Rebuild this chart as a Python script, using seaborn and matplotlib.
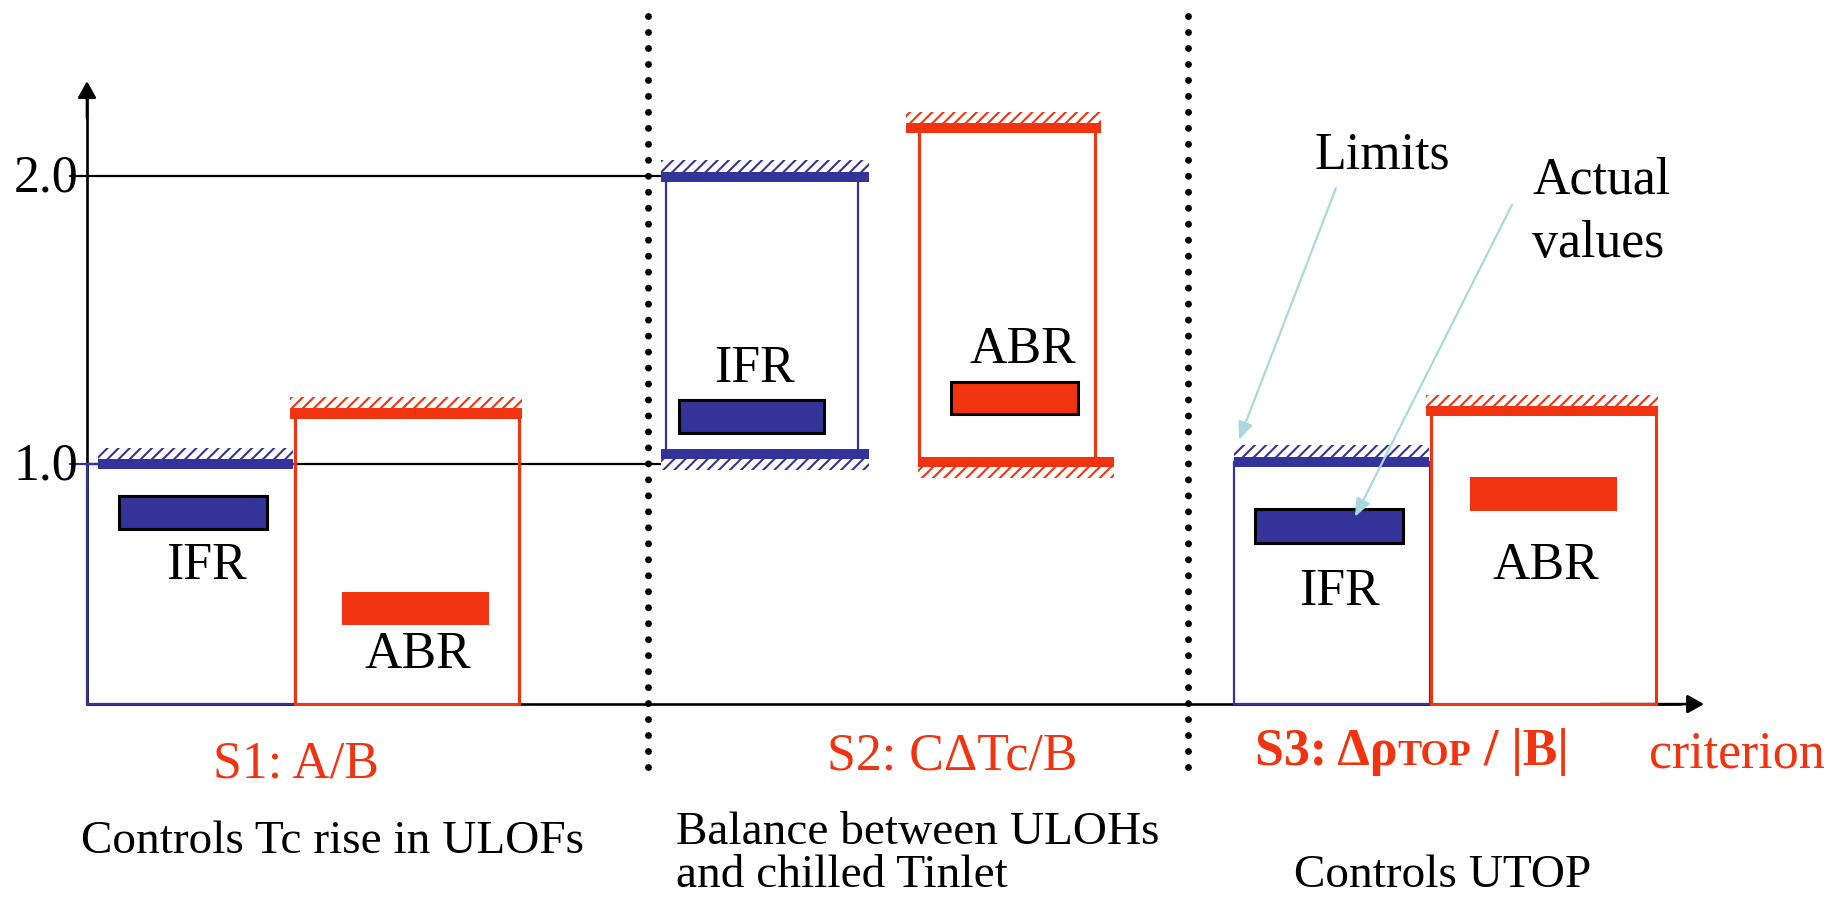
"""
plot.py — IFR vs ABR: limites e valores reais dos critérios S1, S2, S3.
"""

import numpy as np
import matplotlib
matplotlib.use("Agg")
import matplotlib.pyplot as plt
from matplotlib.patches import Rectangle
import seaborn as sns

# ── Dados (eixo vertical em unidades do critério) ─────────────────
cases = ["S1 IFR", "S1 ABR", "S2 IFR", "S2 ABR", "S3 IFR", "S3 ABR"]
reactor = ["IFR", "ABR", "IFR", "ABR", "IFR", "ABR"]
upper_limit = [1.000, 1.176, 1.998, 2.165, 1.009, 1.184]
lower_limit = [np.nan, np.nan, 1.037, 1.009, np.nan, np.nan]
actual_low = [0.775, 0.441, 1.109, 1.174, 0.728, 0.839]
actual_high = [0.890, 0.558, 1.222, 1.287, 0.844, 0.957]

criteria = ["S1: A/B", "S2: CΔTc/B", "S3: ΔρTOP / |B|"]
descriptions = ["Controls Tc rise in ULOFs",
                "Balance between ULOHs\nand chilled Tinlet",
                "Controls UTOP"]
y_ticks = [1.0, 2.0]
y_ticklabels = ["1.0", "2.0"]

# ── Layout (posições horizontais em px da figura) ─────────────────
BASE = 0.168                      # nível do eixo x
box_x0 = [87, 295, 666, 919, 1234, 1431]
box_x1 = [295, 519, 858, 1095, 1430, 1656]
up_x0 = [98, 290, 661, 906, 1234, 1426]
up_x1 = [293, 522, 869, 1101, 1429, 1658]
low_x0 = [0, 0, 661, 918, 0, 0]
low_x1 = [0, 0, 869, 1114, 0, 0]
act_x0 = [119, 342, 679, 951, 1255, 1470]
act_x1 = [267, 489, 824, 1078, 1403, 1617]
act_edge = [True, False, True, True, True, False]
label_x = [206, 418, 754, 1023, 1339, 1546]
label_y = [0.601, 0.2945, 1.2865, 1.351, 0.512, 0.601]
dividers = [648, 1188]

BLUE = "#333399"
RED = "#F2330F"
ARROW = "#A9D9DE"
BAR_H = 0.035
HATCH_H = 0.040
BIG = 37.4
MID = 34

sns.set_theme(style="white")
plt.rcParams["font.family"] = ["Liberation Serif", "DejaVu Serif"]
plt.rcParams["text.color"] = "black"
plt.rcParams["hatch.linewidth"] = 1.5

fig = plt.figure(figsize=(18.42, 8.99), dpi=100)
ax = fig.add_axes([0, 0, 1, 1])
ax.set_xlim(0, 1842)
ax.set_ylim(-0.508, 2.6105)
ax.axis("off")


def limit_bar(x0, x1, v, color, hatch_side):
    ax.add_patch(Rectangle((x0, v - BAR_H / 2), x1 - x0, BAR_H,
                           facecolor=color, edgecolor="none", zorder=5))
    hy = v + BAR_H / 2 if hatch_side > 0 else v - BAR_H / 2 - HATCH_H
    ax.add_patch(Rectangle((x0, hy), x1 - x0, HATCH_H, facecolor="white",
                           edgecolor=color, hatch="///", lw=0, zorder=4))


# ── Eixos desenhados à mão ───────────────────────────────────────
ax.plot([87, 87], [BASE, 2.28], color="black", lw=1.9, zorder=2)
ax.annotate("", xy=(87, 2.329), xytext=(87, 2.2),
            arrowprops=dict(arrowstyle="-|>,head_length=0.5,head_width=0.28",
                            mutation_scale=20, color="black", lw=1.9,
                            shrinkA=0, shrinkB=0), zorder=2)
ax.plot([87, 1680], [BASE, BASE], color="black", lw=1.9, zorder=2)
ax.annotate("", xy=(1704, BASE), xytext=(1600, BASE),
            arrowprops=dict(arrowstyle="-|>,head_length=0.5,head_width=0.28",
                            mutation_scale=20, color="black", lw=1.9,
                            shrinkA=0, shrinkB=0), zorder=2)

for v, lab, tc in zip(y_ticks, y_ticklabels, [BLUE, "black"]):
    ax.plot([70, 87], [v, v], color=tc, lw=1.6, zorder=2)
    ax.hlines(v, 87, 720, color="black", lw=1.6, zorder=1)
    ax.text(78, v - 0.053, lab, fontsize=BIG, ha="right", va="baseline")

for xd in dividers:
    ax.plot([xd, xd], [2.555, -0.053], color="black", lw=5,
            linestyle=(0, (0.001, 2.3)), dash_capstyle="round", zorder=2)

# ── Caixas, limites e valores reais ──────────────────────────────
for i, name in enumerate(cases):
    color = BLUE if reactor[i] == "IFR" else RED
    lw = 1.6 if color == BLUE else 2.2
    if np.isnan(lower_limit[i]):
        ax.add_patch(Rectangle((box_x0[i], BASE), box_x1[i] - box_x0[i],
                               upper_limit[i] - BASE, fill=False,
                               edgecolor=color, lw=lw, zorder=3))
    else:
        ax.vlines([box_x0[i], box_x1[i]], lower_limit[i], upper_limit[i],
                  color=color, lw=lw, zorder=3)
        limit_bar(low_x0[i], low_x1[i], lower_limit[i], color, -1)
    limit_bar(up_x0[i], up_x1[i], upper_limit[i], color, +1)

    ax.add_patch(Rectangle((act_x0[i], actual_low[i]), act_x1[i] - act_x0[i],
                           actual_high[i] - actual_low[i], facecolor=color,
                           edgecolor="black" if act_edge[i] else color,
                           lw=2.2 if act_edge[i] else 0, zorder=6))
    ax.text(label_x[i], label_y[i], reactor[i], fontsize=BIG,
            ha="center", va="baseline", zorder=7)

# ── Anotações ────────────────────────────────────────────────────
ax.text(1382, 2.027, "Limits", fontsize=BIG, ha="center", va="baseline")
ax.text(1602, 1.941, "Actual", fontsize=BIG, ha="center", va="baseline")
ax.text(1598, 1.720, "values", fontsize=BIG, ha="center", va="baseline")
for start, end in [((1336, 1.958), (1239, 1.0845)),
                   ((1512, 1.900), (1355, 0.818))]:
    ax.annotate("", xy=end, xytext=start,
                arrowprops=dict(arrowstyle="-|>,head_length=0.6,head_width=0.25",
                                mutation_scale=18, color=ARROW, lw=1.6,
                                shrinkA=0, shrinkB=0), zorder=8)

# ── Rótulos dos critérios ────────────────────────────────────────
ax.text(296, -0.0877, criteria[0], fontsize=BIG, color=RED,
        ha="center", va="baseline")
ax.text(952, -0.0597, criteria[1], fontsize=BIG, color=RED,
        ha="center", va="baseline")

renderer = fig.canvas.get_renderer()
x = 1255
for piece, size in [("S3: Δρ", BIG), ("TOP", 26), (" / |B|", BIG)]:
    t = ax.text(x, -0.0427, piece, fontsize=size, color=RED,
                fontweight="bold", ha="left", va="baseline")
    bb = t.get_window_extent(renderer=renderer)
    x = ax.transData.inverted().transform((bb.x1, bb.y0))[0]

ax.text(1649, -0.053, "criterion", fontsize=BIG, color=RED,
        ha="left", va="baseline")

ax.text(332, -0.348, descriptions[0], fontsize=MID, ha="center", va="baseline")
line1, line2 = descriptions[1].split("\n")
ax.text(676, -0.318, line1, fontsize=MID, ha="left", va="baseline")
ax.text(676, -0.466, line2, fontsize=MID, ha="left", va="baseline")
ax.text(1443, -0.466, descriptions[2], fontsize=MID, ha="center", va="baseline")

fig.savefig("out.png", dpi=100)
